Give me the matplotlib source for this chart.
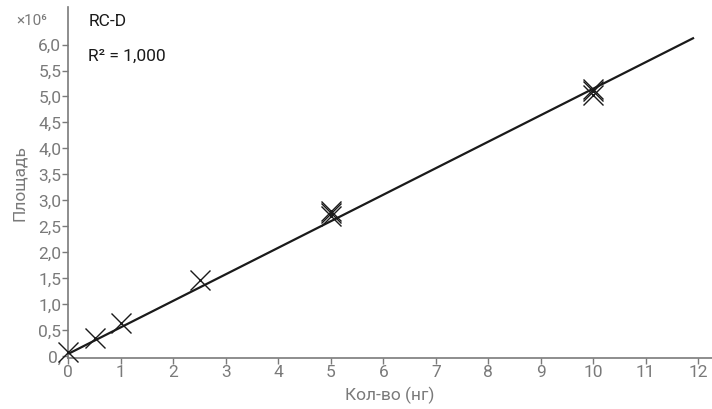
import matplotlib
matplotlib.use("Agg")
import matplotlib.pyplot as plt
from matplotlib.ticker import FuncFormatter, MultipleLocator, FixedLocator

plt.rcParams['font.family'] = ['Roboto', 'DejaVu Sans']

# data (area in units of 10^6)
amount = [0.0, 0.5, 1.0, 2.5, 5.0, 5.0, 5.0, 10.0, 10.0, 10.0]
area = [0.08, 0.35, 0.64, 1.47, 2.70, 2.75, 2.80, 5.03, 5.10, 5.15]
fit_x = [0.0, 11.9]
fit_y = [0.05, 6.12]
yticks = [0.0, 0.5, 1.0, 1.5, 2.0, 2.5, 3.0, 3.5, 4.0, 4.5, 5.0, 5.5, 6.0]
title_text = "RC-D"
r2_text = "R² = 1,000"
xlabel = "Кол-во (нг)"
ylabel = "Площадь"

gray = '#7a7a7a'
fig = plt.figure(figsize=(7.12, 4.09), dpi=100)
ax = fig.add_axes([0.0959, 0.1247, 0.904, 0.858])

ax.plot(fit_x, fit_y, color='#1a1a1a', lw=1.6, clip_on=False, zorder=2)
ax.plot(amount, area, linestyle='none', marker='x', markersize=15,
        markeredgewidth=1.0, color='#1a1a1a', clip_on=False, zorder=3)

ax.set_xlim(0, 12.26)
ax.set_ylim(-0.03, 6.72)
ax.xaxis.set_major_locator(MultipleLocator(1))
ax.yaxis.set_major_locator(FixedLocator(yticks))

def yfmt(v, pos):
    if abs(v) < 1e-9:
        return "0,"
    return f"{v:.1f}".replace('.', ',')
ax.yaxis.set_major_formatter(FuncFormatter(yfmt))
ax.xaxis.set_major_formatter(FuncFormatter(lambda v, p: f"{int(round(v))}"))

for s in ['top', 'right']:
    ax.spines[s].set_visible(False)
for s in ['left', 'bottom']:
    ax.spines[s].set_color(gray)
    ax.spines[s].set_linewidth(1.2)

ax.tick_params(axis='both', colors=gray, labelcolor=gray, labelsize=12.5,
               length=4, width=1.0, direction='out', pad=1)

ax.set_xlabel(xlabel, color=gray, fontsize=12.5, labelpad=5)
ax.set_ylabel(ylabel, color=gray, fontsize=12.5, labelpad=8)

fig.text(0.044, 0.948, "×10⁶", color=gray, fontsize=11, ha='center', va='center')
fig.text(0.124, 0.947, title_text, color='#1a1a1a', fontsize=12.5, ha='left', va='center')
fig.text(0.124, 0.862, r2_text, color='#1a1a1a', fontsize=12.5, ha='left', va='center')

fig.savefig("out.png", dpi=100)
